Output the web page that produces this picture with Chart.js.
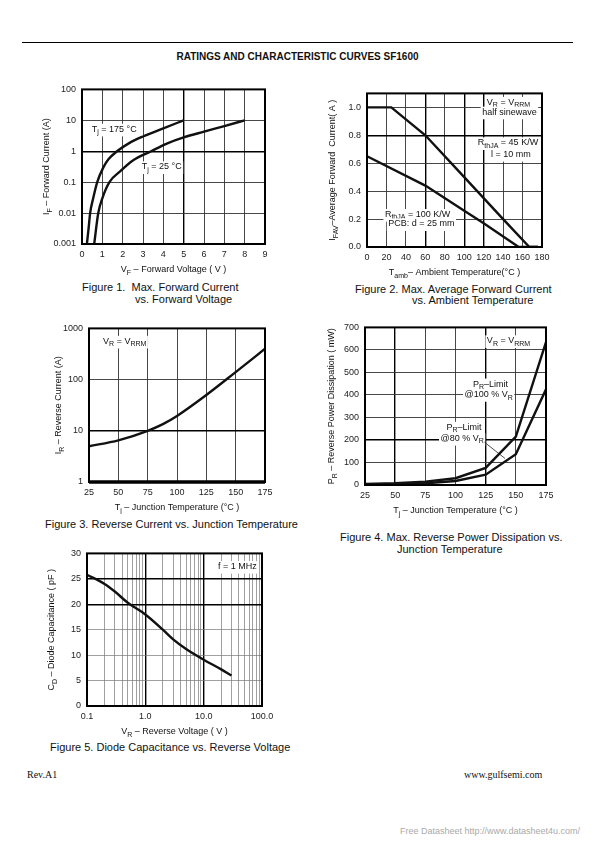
<!DOCTYPE html>
<html>
<head>
<meta charset="utf-8">
<script src="https://cdn.jsdelivr.net/npm/chart.js@4.4.1/dist/chart.umd.min.js"></script>
<style>
body { margin: 0; background: #fff; }
#page { position: relative; width: 595px; height: 842px; overflow: hidden; font-family: "Liberation Sans", Arial, sans-serif; color: #111; }
canvas { position: absolute; }
.t { position: absolute; white-space: pre; font-size: 11px; line-height: 12px; }
#rule { position: absolute; left: 22px; top: 42px; width: 551px; height: 0; border-top: 1.5px solid #000; }
#head { left: 0; width: 595px; top: 51px; text-align: center; font-weight: bold; font-size: 10px; }
.serif { font-family: "Liberation Serif", "Times New Roman", serif; font-size: 10px; }
#free { font-size: 9px; color: #aaa; }
</style>
</head>
<body>
<div id="page">
  <div id="rule"></div>
  <div class="t" id="head">RATINGS AND CHARACTERISTIC CURVES SF1600</div>

  <canvas id="fig1" width="250" height="200" style="left:30px;top:78px"></canvas>
  <canvas id="fig2" width="235" height="197" style="left:322px;top:82px"></canvas>
  <canvas id="fig3" width="235" height="197" style="left:45px;top:317px"></canvas>
  <canvas id="fig4" width="241" height="202" style="left:320px;top:316px"></canvas>
  <canvas id="fig5" width="240" height="197" style="left:40px;top:542px"></canvas>

  <div class="t" style="left:82px;top:281px">Figure 1.  Max. Forward Current</div>
  <div class="t" style="left:135px;top:293px">vs. Forward Voltage</div>
  <div class="t" style="left:355px;top:283px">Figure 2. Max. Average Forward Current</div>
  <div class="t" style="left:412px;top:294px">vs. Ambient Temperature</div>
  <div class="t" style="left:45px;top:518px">Figure 3. Reverse Current vs. Junction Temperature</div>
  <div class="t" style="left:340px;top:531px">Figure 4. Max. Reverse Power Dissipation vs.</div>
  <div class="t" style="left:397px;top:543px">Junction Temperature</div>
  <div class="t" style="left:50px;top:741px">Figure 5. Diode Capacitance vs. Reverse Voltage</div>

  <div class="t serif" style="left:27px;top:769px">Rev.A1</div>
  <div class="t serif" style="left:464px;top:769px">www.gulfsemi.com</div>
  <div class="t" id="free" style="left:400px;top:825px">Free Datasheet http://www.datasheet4u.com/</div>
</div>
<script>
Chart.defaults.font.family = '"Liberation Sans", Arial, sans-serif';
Chart.defaults.font.size = 9;
Chart.defaults.color = '#222';

// fig 1 - forward current vs forward voltage
const vfTicks = [0, 1, 2, 3, 4, 5, 6, 7, 8, 9];
const ifTicks = [0.001, 0.01, 0.1, 1, 10, 100];
const vf175 = [0.24, 0.32, 0.4, 0.55, 0.75, 1.05, 1.3, 1.72, 2.3, 3.0, 4.0, 5.0];
const if175 = [0.001, 0.003, 0.01, 0.03, 0.1, 0.3, 0.55, 1.0, 1.8, 3.0, 5.5, 10];
const vf25 = [0.6, 0.8, 1.0, 1.35, 1.9, 2.5, 3.4, 4.2, 5.0, 6.0, 7.0, 8.0];
const if25 = [0.001, 0.01, 0.03, 0.1, 0.23, 0.5, 1.0, 1.8, 2.8, 4.3, 6.5, 10];

// fig 2 - average forward current vs ambient temperature
const tambTicks = [0, 20, 40, 60, 80, 100, 120, 140, 160, 180];
const ifavTicks = [0, 0.2, 0.4, 0.6, 0.8, 1.0];
const tamb45 = [0, 25, 60, 100, 120, 140, 167, 176];
const ifav45 = [1.0, 1.0, 0.8, 0.5, 0.35, 0.2, 0, 0];
const tamb100 = [0, 60, 100, 120, 156, 176];
const ifav100 = [0.65, 0.44, 0.26, 0.17, 0, 0];

// fig 3 - reverse current vs junction temperature
const tjTicks = [25, 50, 75, 100, 125, 150, 175];
const irTicks = [1, 10, 100, 1000];
const tjIr = [25, 50, 75, 88, 100, 125, 150, 175];
const irVals = [5, 6.5, 10, 13.5, 19.5, 50, 140, 400];

// fig 4 - reverse power dissipation
const prTicks = [0, 100, 200, 300, 400, 500, 600, 700];
const tjPr = [25, 50, 75, 100, 125, 150, 175];
const pr100 = [5, 8, 15, 30, 76, 215, 635];
const pr80 = [2, 4, 8, 18, 46, 137, 425];

// fig 5 - diode capacitance vs reverse voltage
const vrGrid = [0.1, 0.2, 0.3, 0.4, 0.5, 0.6, 0.7, 0.8, 0.9,
                1, 2, 3, 4, 5, 6, 7, 8, 9,
                10, 20, 30, 40, 50, 60, 70, 80, 90, 100];
const vrLabels = [0.1, 1, 10, 100];
const cdTicks = [0, 5, 10, 15, 20, 25, 30];
const vrCd = [0.1, 0.2, 0.3, 0.5, 1, 2, 3, 5, 10, 20, 30];
const cdVals = [25.8, 24, 22.5, 20.3, 18, 15, 13.1, 11.2, 9.1, 7.2, 6];

const FONT = '"Liberation Sans", Arial, sans-serif';

// text with _{sub} parts
function rich(ctx, str, x, y, size, align, bg) {
  const parts = str.split(/_\{([^}]*)\}/);
  let w = 0;
  const ms = parts.map((p, i) => {
    const sz = i % 2 ? size * 0.78 : size;
    ctx.font = sz + 'px ' + FONT;
    const pw = ctx.measureText(p).width;
    w += pw;
    return [p, sz, pw, i % 2];
  });
  let x0 = align === 'center' ? x - w / 2 : align === 'right' ? x - w : x;
  if (bg) {
    ctx.fillStyle = '#fff';
    ctx.fillRect(x0 - 1.5, y - size * 0.62, w + 3, size * 1.4);
  }
  ctx.fillStyle = '#111';
  ctx.textBaseline = 'middle';
  ctx.textAlign = 'left';
  ms.forEach(([p, sz, pw, sub]) => {
    ctx.font = sz + 'px ' + FONT;
    ctx.fillText(p, x0, sub ? y + size * 0.32 : y);
    x0 += pw;
  });
}

function notes(o) {
  return {
    id: 'notes',
    beforeDatasetsDraw(chart) {
      const ctx = chart.ctx, sx = chart.scales.x, sy = chart.scales.y;
      ctx.save();
      (o.labels || []).forEach(l => {
        rich(ctx, l.text, sx.getPixelForValue(l.x), sy.getPixelForValue(l.y), 9, l.align || 'left', l.bg);
      });
      (o.leaders || []).forEach(l => {
        ctx.strokeStyle = '#222';
        ctx.lineWidth = 0.8;
        ctx.beginPath();
        ctx.moveTo(sx.getPixelForValue(l[0]), sy.getPixelForValue(l[1]));
        ctx.lineTo(sx.getPixelForValue(l[2]), sy.getPixelForValue(l[3]));
        ctx.stroke();
      });
      ctx.restore();
    },
    afterDraw(chart) {
      const a = chart.chartArea, ctx = chart.ctx;
      ctx.save();
      ctx.strokeStyle = '#000';
      ctx.lineWidth = 2;
      ctx.strokeRect(a.left, a.top, a.right - a.left, a.bottom - a.top);
      if (o.bottomWidth) {
        ctx.lineWidth = o.bottomWidth;
        ctx.beginPath();
        ctx.moveTo(a.left, a.bottom);
        ctx.lineTo(a.right, a.bottom);
        ctx.stroke();
      }
      rich(ctx, o.xTitle, (a.left + a.right) / 2, a.bottom + 26, 9, 'center');
      ctx.translate(a.left - o.yOff, (a.top + a.bottom) / 2);
      ctx.rotate(-Math.PI / 2);
      rich(ctx, o.yTitle, 0, 0, 9, 'center');
      ctx.restore();
    }
  };
}

function plot(id, o) {
  const fix = list => s => { s.ticks = list.map(v => ({ value: v })); };
  const grid = (heavy, light) => ({
    color: c => heavy.includes(c.tick.value) ? '#000' : (light ? '#777' : '#333'),
    lineWidth: c => heavy.includes(c.tick.value) ? 1.4 : (light ? 0.7 : 0.9),
    drawTicks: false
  });
  return new Chart(document.getElementById(id), {
    type: 'line',
    data: {
      datasets: o.series.map(s => ({
        data: s[0].map((x, i) => ({ x: x, y: s[1][i] })),
        borderColor: '#111',
        borderWidth: 2.4,
        pointRadius: 0,
        tension: o.smooth ? 0.4 : 0,
        cubicInterpolationMode: o.smooth ? 'monotone' : 'default'
      }))
    },
    options: {
      responsive: false,
      animation: false,
      events: [],
      layout: { padding: { top: 8, right: o.padRight || 15 } },
      plugins: { legend: { display: false }, tooltip: { enabled: false } },
      scales: {
        x: {
          type: o.xType || 'linear',
          min: o.xMin, max: o.xMax,
          afterBuildTicks: fix(o.xTicks),
          afterFit: s => { s.height = o.xH; },
          grid: grid(o.xHeavy, o.xLight),
          border: { display: false },
          ticks: { padding: 5, maxRotation: 0, autoSkip: false, callback: o.xFmt || (v => String(v)) }
        },
        y: {
          type: o.yType || 'linear',
          min: o.yMin, max: o.yMax,
          afterBuildTicks: fix(o.yTicks),
          afterFit: s => { s.width = o.yW; },
          grid: grid(o.yHeavy, o.yLight),
          border: { display: false },
          ticks: { padding: 6, autoSkip: false, callback: o.yFmt || (v => String(v)) }
        }
      }
    },
    plugins: [notes(o)]
  });
}

plot('fig1', {
  series: [[vf175, if175], [vf25, if25]], smooth: true,
  xMin: 0, xMax: 9, xTicks: vfTicks, xHeavy: [5], xH: 34,
  yType: 'logarithmic', yMin: 0.001, yMax: 100, yTicks: ifTicks, yHeavy: [1], yW: 52,
  xTitle: 'V_{F} – Forward Voltage ( V )', yTitle: 'I_{F} – Forward Current (A)', yOff: 35,
  labels: [
    { text: 'T_{j} = 175 °C', x: 0.48, y: 5.1, bg: true },
    { text: 'T_{j} = 25 °C', x: 2.94, y: 0.31, bg: true }
  ]
});

plot('fig2', {
  series: [[tamb45, ifav45], [tamb100, ifav100]],
  xMin: 0, xMax: 180, xTicks: tambTicks, xHeavy: [60, 100, 120], xH: 32,
  yMin: 0, yMax: 1.1, yTicks: ifavTicks, yHeavy: [0.8], yW: 45, yFmt: v => v.toFixed(1),
  xTitle: 'T_{amb}– Ambient Temperature(°C )', yTitle: 'I_{FAV}–Average Forward  Current( A )', yOff: 34,
  labels: [
    { text: 'V_{R} = V_{RRM}', x: 145.5, y: 1.035, align: 'center', bg: true },
    { text: 'half sinewave', x: 146.5, y: 0.965, align: 'center', bg: true },
    { text: 'R_{thJA} = 45 K/W', x: 145, y: 0.745, align: 'center', bg: true },
    { text: 'l = 10 mm', x: 148, y: 0.662, align: 'center', bg: true },
    { text: 'R_{thJA} = 100 K/W', x: 52, y: 0.232, align: 'center', bg: true },
    { text: 'PCB: d = 25 mm', x: 56, y: 0.165, align: 'center', bg: true }
  ]
});

plot('fig3', {
  series: [[tjIr, irVals]], smooth: true, bottomWidth: 3.5,
  xMin: 25, xMax: 175, xTicks: tjTicks, xHeavy: [], xH: 32,
  yType: 'logarithmic', yMin: 1, yMax: 1000, yTicks: irTicks, yHeavy: [10], yW: 44,
  xTitle: 'T_{j} – Junction Temperature (°C )', yTitle: 'I_{R} – Reverse Current (A)', yOff: 30,
  labels: [
    { text: 'V_{R} = V_{RRM}', x: 37, y: 556, bg: true }
  ]
});

plot('fig4', {
  series: [[tjPr, pr100], [tjPr, pr80]],
  xMin: 25, xMax: 175, xTicks: tjTicks, xHeavy: [50, 125], xH: 33,
  yMin: 0, yMax: 700, yTicks: prTicks, yHeavy: [200], yW: 45,
  xTitle: 'T_{j} – Junction Temperature (°C )', yTitle: 'P_{R} – Reverse Power Dissipation ( mW)', yOff: 33,
  labels: [
    { text: 'V_{R} = V_{RRM}', x: 126, y: 640, bg: true },
    { text: 'P_{R}–Limit', x: 129, y: 448, align: 'center', bg: true },
    { text: '@100 % V_{R}', x: 127.5, y: 401, align: 'center', bg: true },
    { text: 'P_{R}–Limit', x: 107, y: 256, align: 'center', bg: true },
    { text: '@80 % V_{R}', x: 105.5, y: 206, align: 'center', bg: true }
  ],
  leaders: [[124, 190, 141, 118]]
});

plot('fig5', {
  series: [[vrCd, cdVals]], smooth: true, padRight: 18,
  xType: 'logarithmic', xMin: 0.1, xMax: 100, xTicks: vrGrid, xHeavy: [1, 10], xLight: true, xH: 33,
  xFmt: v => vrLabels.includes(v) ? v.toFixed(1) : '',
  yMin: 0, yMax: 30, yTicks: cdTicks, yHeavy: [20, 25], yLight: true, yW: 47,
  xTitle: 'V_{R} – Reverse Voltage ( V )', yTitle: 'C_{D} – Diode Capacitance ( pF )', yOff: 35,
  labels: [
    { text: 'f = 1 MHz', x: 81, y: 27.4, align: 'right', bg: true }
  ]
});
</script>
</body>
</html>
